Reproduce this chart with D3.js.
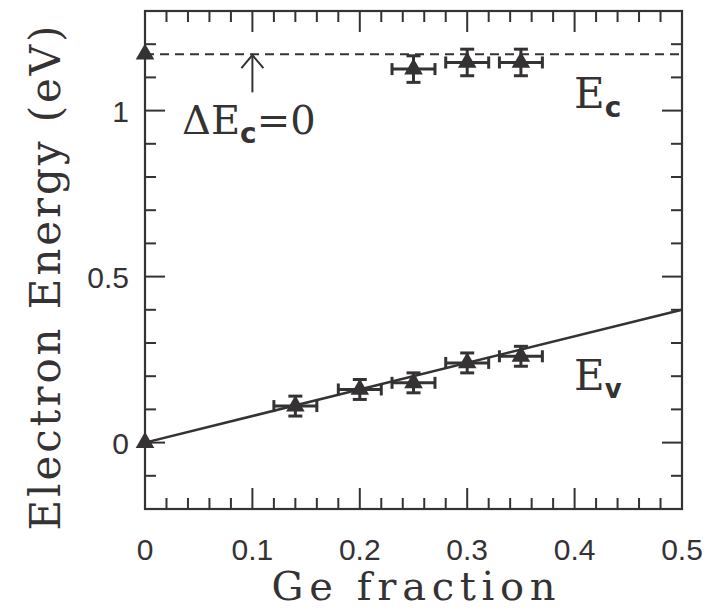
<!DOCTYPE html>
<html>
<head>
<meta charset="utf-8">
<script src="https://cdn.jsdelivr.net/npm/d3@7/dist/d3.min.js"></script>
<style>
  html, body { margin: 0; padding: 0; background: #fff; }
  svg { display: block; }
</style>
</head>
<body>
<svg id="chart" width="712" height="612"></svg>
<script>
// ---- data ----
const ecX = [0.25, 0.30, 0.35];
const ecY = [1.125, 1.145, 1.145];
const ecXErr = [0.02, 0.02, 0.02];
const ecYErr = [0.04, 0.04, 0.04];

const evX = [0.14, 0.20, 0.25, 0.30, 0.35];
const evY = [0.11, 0.16, 0.18, 0.24, 0.26];
const evXErr = [0.02, 0.02, 0.02, 0.02, 0.02];
const evYErr = [0.03, 0.03, 0.03, 0.03, 0.03];

const refX = [0, 0];          // Si reference points
const refY = [0, 1.17];

const fitX = [0, 0.5];        // Ev linear fit
const fitY = [0, 0.40];

const ecLevel = 1.17;         // dashed conduction-band level
const arrowX = 0.1;
const arrowFromY = 1.055;

const xTickLabels = [0, 0.1, 0.2, 0.3, 0.4, 0.5];
const yTickLabels = [0, 0.5, 1];
const xLabel = "Ge fraction";
const yLabel = "Electron Energy (eV)";

// ---- scales ----
const svg = d3.select("#chart");
const x = d3.scaleLinear().domain([0, 0.5]).range([145, 682]);
const y = d3.scaleLinear().domain([-0.2, 1.3]).range([509, 11]);
const ink = "#353234";

// frame
svg.append("rect")
  .attr("x", x(0)).attr("y", y(1.3))
  .attr("width", x(0.5) - x(0)).attr("height", y(-0.2) - y(1.3))
  .attr("fill", "none").attr("stroke", ink).attr("stroke-width", 2.2);

// ticks (inward on all four sides)
const xMinor = d3.range(1, 25).map(i => +(i * 0.02).toFixed(2));
const yMinor = d3.range(-1, 13).map(i => +(i * 0.1).toFixed(1));
const isMajorX = v => Math.abs(v * 10 - Math.round(v * 10)) < 1e-6;
const isMajorY = v => Math.abs(v * 2 - Math.round(v * 2)) < 1e-6;

const ticks = svg.append("g").attr("stroke", ink).attr("stroke-width", 2);
xMinor.forEach(v => {
  const L = isMajorX(v) ? 21 : 11;
  ticks.append("line").attr("x1", x(v)).attr("x2", x(v)).attr("y1", y(-0.2)).attr("y2", y(-0.2) - L);
  ticks.append("line").attr("x1", x(v)).attr("x2", x(v)).attr("y1", y(1.3)).attr("y2", y(1.3) + L);
});
yMinor.forEach(v => {
  const L = isMajorY(v) ? 20 : 11;
  ticks.append("line").attr("x1", x(0)).attr("x2", x(0) + L).attr("y1", y(v)).attr("y2", y(v));
  ticks.append("line").attr("x1", x(0.5)).attr("x2", x(0.5) - L).attr("y1", y(v)).attr("y2", y(v));
});

// tick labels
const fmt = d => String(d);
svg.append("g").selectAll("text").data(xTickLabels).join("text")
  .attr("x", d => x(d)).attr("y", 560)
  .attr("text-anchor", "middle")
  .attr("font-family", "Liberation Sans, Arial, sans-serif")
  .attr("font-size", 30).attr("fill", ink)
  .text(fmt);
svg.append("g").selectAll("text").data(yTickLabels).join("text")
  .attr("x", 129).attr("y", d => y(d) + 11)
  .attr("text-anchor", "end")
  .attr("font-family", "Liberation Sans, Arial, sans-serif")
  .attr("font-size", 30).attr("fill", ink)
  .text(fmt);

// axis titles
svg.append("text")
  .attr("x", (x(0) + x(0.5)) / 2).attr("y", 600)
  .attr("text-anchor", "middle")
  .attr("font-family", "DejaVu Serif, serif")
  .attr("font-size", 40).attr("fill", ink)
  .attr("textLength", 284)
  .text(xLabel);
svg.append("text")
  .attr("transform", `translate(60,${(y(-0.2) + y(1.3)) / 2 + 18}) rotate(-90)`)
  .attr("text-anchor", "middle")
  .attr("font-family", "DejaVu Serif, serif")
  .attr("font-size", 42).attr("fill", ink)
  .attr("textLength", 505)
  .text(yLabel);

// dashed Ec level
svg.append("line")
  .attr("x1", x(0)).attr("x2", x(0.5))
  .attr("y1", y(ecLevel)).attr("y2", y(ecLevel))
  .attr("stroke", ink).attr("stroke-width", 2)
  .attr("stroke-dasharray", "9,6");

// Ev fit line
svg.append("path")
  .datum(fitX.map((v, i) => [v, fitY[i]]))
  .attr("d", d3.line().x(d => x(d[0])).y(d => y(d[1])))
  .attr("fill", "none").attr("stroke", ink).attr("stroke-width", 2.5);

// arrow
svg.append("line")
  .attr("x1", x(arrowX)).attr("x2", x(arrowX))
  .attr("y1", y(arrowFromY)).attr("y2", y(ecLevel) + 1)
  .attr("stroke", ink).attr("stroke-width", 2);
svg.append("path")
  .attr("d", `M${x(arrowX) - 11},${y(ecLevel) + 14} L${x(arrowX)},${y(ecLevel) + 1} L${x(arrowX) + 11},${y(ecLevel) + 14}`)
  .attr("fill", "none").attr("stroke", ink).attr("stroke-width", 2);

// error bars + markers
function drawSeries(xs, ys, xe, ye) {
  const g = svg.append("g").attr("stroke", ink).attr("stroke-width", 3).attr("fill", "none");
  xs.forEach((xv, i) => {
    const cx = x(xv), cy = y(ys[i]);
    const x0 = x(xv - xe[i]), x1 = x(xv + xe[i]);
    const y0 = y(ys[i] - ye[i]), y1 = y(ys[i] + ye[i]);
    g.append("line").attr("x1", x0).attr("x2", x1).attr("y1", cy).attr("y2", cy);
    g.append("line").attr("x1", x0).attr("x2", x0).attr("y1", cy - 6).attr("y2", cy + 6);
    g.append("line").attr("x1", x1).attr("x2", x1).attr("y1", cy - 6).attr("y2", cy + 6);
    g.append("line").attr("x1", cx).attr("x2", cx).attr("y1", y0).attr("y2", y1);
    g.append("line").attr("x1", cx - 7).attr("x2", cx + 7).attr("y1", y0).attr("y2", y0);
    g.append("line").attr("x1", cx - 7).attr("x2", cx + 7).attr("y1", y1).attr("y2", y1);
  });
}
drawSeries(ecX, ecY, ecXErr, ecYErr);
drawSeries(evX, evY, evXErr, evYErr);

const tri = d3.symbol().type(d3.symbolTriangle).size(150);
const allPts = [...ecX.map((v, i) => [v, ecY[i]]), ...evX.map((v, i) => [v, evY[i]]), ...refX.map((v, i) => [v, refY[i]])];
svg.append("g").selectAll("path").data(allPts).join("path")
  .attr("transform", d => `translate(${x(d[0])},${y(d[1])})`)
  .attr("d", tri)
  .attr("fill", ink);

// annotations
const dE = svg.append("text")
  .attr("x", 182).attr("y", 134)
  .attr("font-family", "DejaVu Serif, serif")
  .attr("font-size", 40).attr("fill", ink);
dE.append("tspan").text("ΔE");
dE.append("tspan").attr("dy", 9).attr("font-size", 28).attr("font-family", "DejaVu Sans, sans-serif").attr("font-weight", "bold").text("c");
dE.append("tspan").attr("dy", -9).text("=0");

const ec = svg.append("text")
  .attr("x", 574).attr("y", 108)
  .attr("font-family", "DejaVu Serif, serif")
  .attr("font-size", 42).attr("fill", ink);
ec.append("tspan").text("E");
ec.append("tspan").attr("dy", 9).attr("font-size", 28).attr("font-family", "DejaVu Sans, sans-serif").attr("font-weight", "bold").text("c");

const ev = svg.append("text")
  .attr("x", 574).attr("y", 390)
  .attr("font-family", "DejaVu Serif, serif")
  .attr("font-size", 42).attr("fill", ink);
ev.append("tspan").text("E");
ev.append("tspan").attr("dy", 8).attr("font-size", 26).attr("font-family", "DejaVu Sans, sans-serif").attr("font-weight", "bold").text("v");
</script>
</body>
</html>
